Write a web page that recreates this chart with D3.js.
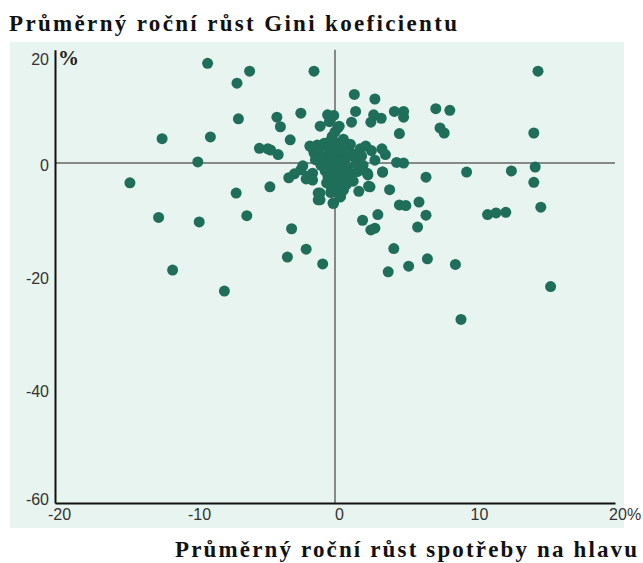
<!DOCTYPE html>
<html><head><meta charset="utf-8">
<script src="https://cdn.jsdelivr.net/npm/d3@7/dist/d3.min.js"></script>
<style>body{margin:0;background:#fff}svg{display:block}</style>
</head><body><svg id="c" width="643" height="563"></svg>
<script>
const titleY = "Průměrný roční růst Gini koeficientu";
const titleX = "Průměrný roční růst spotřeby na hlavu";
const xTicks = [-20, -10, 0, 10, 20];
const yTicks = [20, 0, -20, -40, -60];
// average annual growth of consumption per capita (%)
const consumption = [
 -9.1,-6.1,-7.0,-1.5,14.5,-6.9,-8.9,-12.35,-9.8,-14.65,-12.6,-9.7,-11.6,-7.9,-7.06,-6.3,-4.65,-3.1,-3.4,-2.06,
 -0.88,-5.4,-4.8,-4.06,-3.2,-2.44,-4.15,-3.9,-0.53,-0.09,-1.06,0.2,1.38,2.85,1.47,1.18,2.76,2.56,3.3,4.24,
 4.9,4.9,4.6,7.2,8.2,7.5,7.8,14.2,14.3,12.6,9.4,14.2,14.7,10.9,11.5,12.2,15.4,9.0,8.6,6.6,
 5.26,3.8,4.2,5.9,6.5,6.0,6.5,4.6,5.06,4.9,4.4,3.9,3.4,3.06,1.97,2.56,2.85,1.7,2.35,2.4,
 2.85,3.6,3.35,2.6,1.8,1.24,0.94,1.3,0.4,-0.1,-0.3,-1.2,-1.2,-2.9,-3.3,-2.44,-2.06,-1.6,-1.6,-1.26,
 -1.5,-0.76,-0.5,-0.2,0.2,0.65,0.35,-0.2,-0.4,0.35,0.06,0.65,-0.5,-0.8,0.94,1.5,0.8,-4.6,
 -1.8,-1.2,-0.9,-0.6,-0.3,0.0,0.3,0.1,0.4,0.7,0.2,-0.1,0.5,-0.6,0.2,0.9,1.1,-0.4,0.6,-1.0,
 -1.4,1.6,1.2,-2.3,-1.9,0.0,0.4,-0.2,0.8,1.4,-0.7,0.1,-0.3,1.9,2.2,2.0,0.6,-1.6,-1.07,-1.07,-0.14,0.36,1.07,2.3,3.4,2.5
];
// average annual growth of the Gini coefficient (%)
const gini = [
 17.6,16.2,14.1,16.2,16.2,7.8,4.6,4.3,0.2,-3.5,-9.6,-10.4,-18.9,-22.6,-5.3,-9.3,-4.2,-11.6,-16.6,-15.2,
 -17.8,2.6,2.5,1.5,4.1,8.8,8.1,6.4,8.5,8.4,6.5,6.2,12.1,11.3,9.1,7.2,8.5,7.2,7.9,9.1,
 9.1,8.1,5.2,9.6,9.3,6.2,5.3,5.3,-0.7,-1.4,-1.6,-3.4,-7.8,-9.1,-8.8,-8.7,-21.8,-27.6,-17.9,-16.9,
 -18.2,-19.2,-15.1,-11.3,-9.2,-6.9,-2.5,-7.4,-7.5,0.0,0.1,-4.7,-1.6,-9.1,-10.1,-11.8,-11.5,-5.0,-2.1,-4.1,
 0.5,1.5,2.5,2.2,2.5,1.6,-2.4,-3.2,-5.9,-7.1,-5.2,-5.3,-6.5,-1.9,-2.6,-1.2,-2.8,-1.8,2.6,3.2,
 1.8,3.5,1.5,4.7,3.5,2.4,0.9,0.0,-1.2,-1.2,-2.9,-1.8,-2.4,0.3,1.2,0.0,-3.8,2.3,
 3.0,2.2,1.0,2.8,4.0,5.5,6.5,3.0,1.8,0.6,-0.5,-1.8,-2.5,-3.5,-4.5,-0.8,3.3,7.3,4.2,-0.4,
 0.6,-1.5,-2.0,-0.5,-2.3,0.9,0.2,2.0,2.0,1.0,-1.4,-3.3,-4.1,1.2,3.0,-0.4,-4.8,-3.0,-5.3,-6.5,-7.1,-6.0,-3.0,-1.8,-1.6,-4.2
];
const data = consumption.map((v,i)=>({x:v,y:gini[i]}));

const svg = d3.select("#c");
const x = d3.scaleLinear().domain([-20,20]).range([55,615]);
const y = d3.scaleLinear().domain([-60,20]).range([503,49.7]);

svg.append("rect").attr("x",10).attr("y",42).attr("width",614).attr("height",486).attr("fill","#e8f4ef");

// zero lines
svg.append("line").attr("x1",x(-20)).attr("x2",x(20)).attr("y1",y(0)).attr("y2",y(0))
  .attr("stroke","#666").attr("stroke-width",1.5);
svg.append("line").attr("x1",x(0)).attr("x2",x(0)).attr("y1",y(-60)).attr("y2",y(20))
  .attr("stroke","#666").attr("stroke-width",1.5);

// points
svg.append("g").selectAll("circle").data(data).join("circle")
  .attr("cx",d=>x(d.x)).attr("cy",d=>y(d.y)).attr("r",5.5).attr("fill","#1e6e5a");

// axes
const fontTick = "'Liberation Sans Narrow','Liberation Sans',Arial,sans-serif";
const ga = svg.append("g").attr("transform",`translate(${x(-20)},0)`)
  .call(d3.axisLeft(y).tickValues(yTicks).tickSize(0).tickPadding(6).tickFormat(d=>d));
ga.select(".domain").attr("stroke","#111").attr("stroke-width",2);
ga.selectAll("text").attr("font-family",fontTick).attr("font-size",16).attr("fill","#333")
  .attr("dy",d=> d===20 ? "0.9em" : d===-60 ? "0.1em" : "0.45em");

const gb = svg.append("g").attr("transform",`translate(0,${y(-60)})`)
  .call(d3.axisBottom(x).tickValues(xTicks).tickSize(0).tickPadding(6).tickFormat(d=> d===20 ? "20%" : d));
gb.select(".domain").attr("stroke","#111").attr("stroke-width",2);
gb.selectAll("text").attr("font-family",fontTick).attr("font-size",16).attr("fill","#333")
  .attr("dx",d=> d===20 ? "0.6em" : "0.25em");

svg.append("text").attr("x",x(-20)+3).attr("y",y(20)+15).text("%")
  .attr("font-family","'Liberation Serif',serif").attr("font-weight","bold").attr("font-size",21).attr("fill","#222");

svg.append("text").attr("x",9).attr("y",31).text(titleY)
  .attr("font-family","'Liberation Serif','Times New Roman',serif").attr("font-weight","bold")
  .attr("font-size",23).attr("fill","#111").attr("textLength",448).attr("lengthAdjust","spacing");
svg.append("text").attr("x",637).attr("y",557).attr("text-anchor","end").text(titleX)
  .attr("font-family","'Liberation Serif','Times New Roman',serif").attr("font-weight","bold")
  .attr("font-size",23).attr("fill","#111").attr("textLength",462).attr("lengthAdjust","spacing");
</script></body></html>
